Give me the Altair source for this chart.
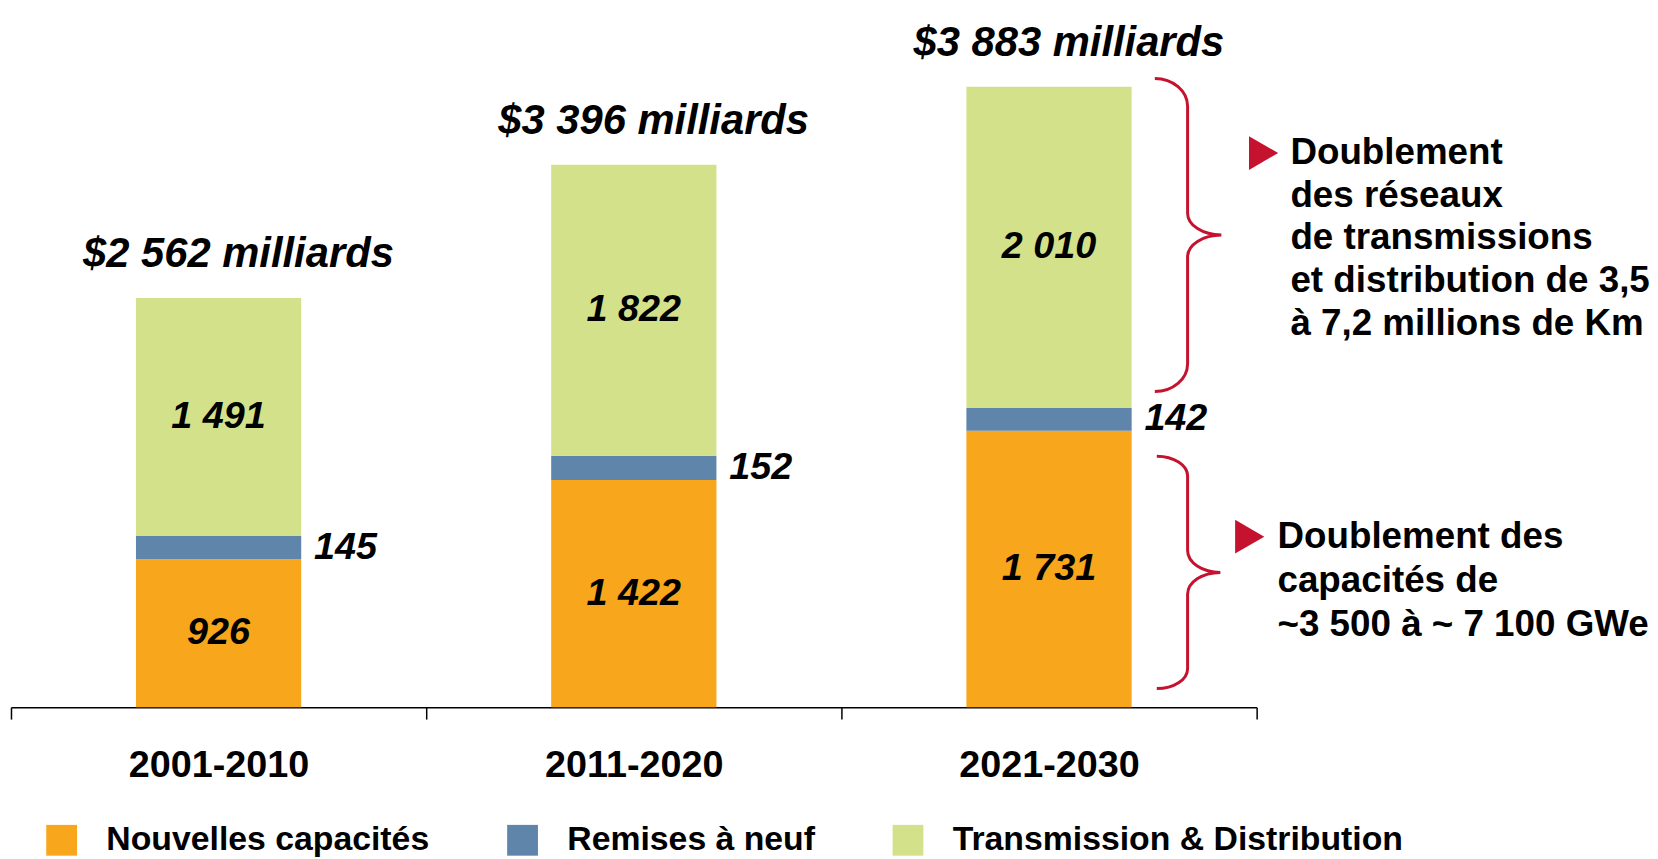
import altair as alt
import pandas as pd

# ---------------- data ----------------
periods = ["2001-2010", "2011-2020", "2021-2030"]
categories = ["Nouvelles capacités", "Remises à neuf", "Transmission & Distribution"]
nouvelles = [926, 1422, 1731]
remises = [145, 152, 142]
transmission = [1491, 1822, 2010]
note_top = ["Doublement", "des réseaux", "de transmissions",
            "et distribution de 3,5", "à 7,2 millions de Km"]
note_bottom = ["Doublement des", "capacités de", "~3 500 à ~ 7 100 GWe"]

colors = ["#F8A61B", "#5F85AA", "#D3E28A"]
red = "#C4122F"
FONT = "Liberation Sans"


def fmt(v):
    return f"{v:,}".replace(",", " ")


rows = []
for i, p in enumerate(periods):
    base = 0
    for k, (cat, vals) in enumerate(zip(categories, [nouvelles, remises, transmission])):
        v = vals[i]
        rows.append(dict(period=p, category=cat, order=k, value=v,
                         start=base, end=base + v, mid=base + v / 2, label=fmt(v)))
        base += v
df = pd.DataFrame(rows)
totals = df.groupby("period", sort=False)["value"].sum().reset_index()
totals["label"] = ["$" + fmt(t) + " milliards" for t in totals["value"]]

last = df[df.period == periods[-1]]
td_mid = float(last[last.category == categories[2]]["mid"].iloc[0])
nc_mid = float(last[last.category == categories[0]]["mid"].iloc[0])
ann_top = pd.DataFrame({"period": [periods[-1]], "mid": [td_mid], "txt": ["\n".join(note_top)]})
ann_bot = pd.DataFrame({"period": [periods[-1]], "mid": [nc_mid], "txt": ["\n".join(note_bottom)]})

# ---------------- scales ----------------
xscale = alt.Scale(domain=periods, paddingInner=0, paddingOuter=0)
yscale = alt.Scale(domain=[0, 4359], nice=False, zero=True)
X = alt.X("period:N", scale=xscale, sort=periods, title=None)
Y_mid = alt.Y("mid:Q", scale=yscale, axis=None)


def brace_path(h_px, arm_px, tip_px, end_px, mid_px):
    u = h_px / 2
    a, t, c, m = arm_px / u, tip_px / u, end_px / u, mid_px / u
    k = 0.4477
    f = lambda v: f"{v:.4f}"
    return " ".join([
        f"M {f(-a)} -1",
        f"C {f(-a*k)} -1 0 {f(-1+c*k)} 0 {f(-1+c)}",
        f"L 0 {f(-m)}",
        f"C 0 {f(-m*k)} {f(t*k)} 0 {f(t)} 0",
        f"C {f(t*k)} 0 0 {f(m*k)} 0 {f(m)}",
        f"L 0 {f(1-c)}",
        f"C 0 {f(1-c*k)} {f(-a*k)} 1 {f(-a)} 1",
    ])


# ---------------- layers ----------------
bars = alt.Chart(df).mark_bar(width=alt.RelativeBandSize(0.398)).encode(
    x=X,
    y=alt.Y("start:Q", scale=yscale, axis=None),
    y2="end:Q",
    color=alt.Color(
        "category:N",
        scale=alt.Scale(domain=categories, range=colors),
        legend=alt.Legend(
            orient="none", legendX=34, legendY=818, direction="horizontal",
            title=None, symbolType="square", symbolSize=961, symbolStrokeWidth=0,
            symbolOpacity=1, labelFontSize=34, labelFontWeight="bold",
            labelFont=FONT, labelColor="black", labelOffset=28, labelLimit=1000,
            columnPadding=76, padding=0,
        ),
    ),
)

inside = alt.Chart(df[df.category != categories[1]]).mark_text(
    font=FONT, fontSize=38, fontWeight="bold", fontStyle="italic",
    baseline="middle", align="center", color="black",
).encode(x=X, y=Y_mid, text="label:N")

side = alt.Chart(df[df.category == categories[1]]).mark_text(
    font=FONT, fontSize=38, fontWeight="bold", fontStyle="italic",
    baseline="middle", align="left", dx=96, color="black",
).encode(x=X, y=Y_mid, text="label:N")

tops = alt.Chart(totals).mark_text(
    font=FONT, fontSize=42, fontWeight="bold", fontStyle="italic",
    baseline="alphabetic", align="center", dx=20, dy=-31, color="black",
).encode(x=X, y=alt.Y("value:Q", scale=yscale, axis=None), text="label:N")

brace_top = alt.Chart(ann_top).mark_point(
    shape=brace_path(315, 33, 34, 28, 22), size=315 ** 2, filled=False,
    strokeWidth=3, color=red, opacity=1, xOffset=139.5, yOffset=-12.5,
).encode(x=X, y=Y_mid)

brace_bot = alt.Chart(ann_bot).mark_point(
    shape=brace_path(234, 31, 33, 20, 22), size=234 ** 2, filled=False,
    strokeWidth=3, color=red, opacity=1, xOffset=139.5, yOffset=3.5,
).encode(x=X, y=Y_mid)

text_top = alt.Chart(ann_top).mark_text(
    font=FONT, fontSize=37, fontWeight="bold", align="left", baseline="middle",
    lineBreak="\n", lineHeight=43, dx=243, dy=-95, color="black",
).encode(x=X, y=Y_mid, text="txt:N")

text_bot = alt.Chart(ann_bot).mark_text(
    font=FONT, fontSize=37, fontWeight="bold", align="left", baseline="middle",
    lineBreak="\n", lineHeight=44.5, dx=230, dy=-32, color="black",
).encode(x=X, y=Y_mid, text="txt:N")

tri_top = alt.Chart(ann_top).mark_point(
    shape="triangle-right", filled=True, size=1150, color=red, opacity=1,
    xOffset=216, yOffset=-95,
).encode(x=X, y=Y_mid)

tri_bot = alt.Chart(ann_bot).mark_point(
    shape="triangle-right", filled=True, size=1150, color=red, opacity=1,
    xOffset=202, yOffset=-32.5,
).encode(x=X, y=Y_mid)

chart = alt.layer(
    bars, inside, side, tops, brace_top, brace_bot, text_top, text_bot, tri_top, tri_bot
).properties(
    width=1254, height=701,
    padding={"left": 2, "top": 0, "right": 0, "bottom": 0},
).configure(font=FONT).configure_view(stroke=None).configure_axisX(
    labelFont=FONT, labelFontSize=38, labelFontWeight="bold", labelColor="black",
    labelAngle=0, labelPadding=28, labelLimit=1000, domainColor="black", domainWidth=1.5,
    tickColor="black", tickWidth=1.5, tickSize=12, tickBand="extent", grid=False,
)

chart.save("out.html", embed_options={"renderer": "svg", "actions": False})
